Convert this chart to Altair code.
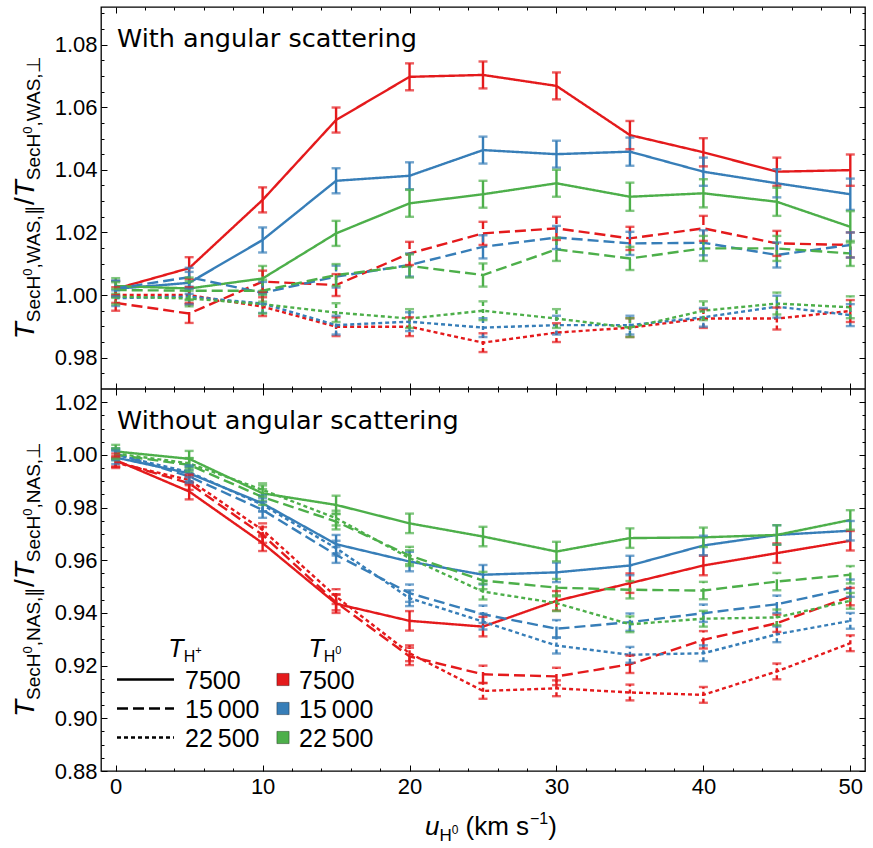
import altair as alt
import pandas as pd

# ---------------- data ----------------
X = [0, 5, 10, 15, 20, 25, 30, 35, 40, 45, 50]
TEMPS = ["7500", "15000", "22500"]
TEMP_LABELS = ["7500", "15\u2009000", "22\u2009500"]
COLORS = ["#E41A1C", "#377EB8", "#4DAF4A"]
DASHES = [[1, 0], [11, 5], [4, 3]]

# With angular scattering  (name: hp = T_H+, h0 = T_H0)
was_hp7500_h07500 = [1.0020, 1.0086, 1.0304, 1.0559, 1.0697, 1.0703, 1.0668, 1.0511, 1.0456, 1.0394, 1.0399]
was_hp7500_h015000 = [1.0020, 1.0039, 1.0176, 1.0365, 1.0381, 1.0463, 1.0450, 1.0458, 1.0394, 1.0357, 1.0322]
was_hp7500_h022500 = [1.0029, 1.0021, 1.0053, 1.0197, 1.0293, 1.0322, 1.0357, 1.0314, 1.0325, 1.0298, 1.0218]
was_hp15000_h07500 = [0.9975, 0.9941, 1.0043, 1.0032, 1.0133, 1.0197, 1.0213, 1.0181, 1.0213, 1.0165, 1.0160]
was_hp15000_h015000 = [1.0021, 1.0057, 1.0007, 1.0059, 1.0096, 1.0154, 1.0184, 1.0165, 1.0167, 1.0128, 1.0160]
was_hp15000_h022500 = [1.0016, 1.0014, 1.0014, 1.0064, 1.0093, 1.0064, 1.0146, 1.0117, 1.0149, 1.0149, 1.0133]
was_hp22500_h07500 = [1.0000, 1.0000, 0.9963, 0.9899, 0.9899, 0.9848, 0.9880, 0.9896, 0.9925, 0.9925, 0.9949]
was_hp22500_h015000 = [0.9990, 0.9995, 0.9973, 0.9904, 0.9915, 0.9896, 0.9904, 0.9904, 0.9929, 0.9963, 0.9936]
was_hp22500_h022500 = [0.9995, 0.9989, 0.9971, 0.9944, 0.9925, 0.9950, 0.9925, 0.9896, 0.9950, 0.9973, 0.9961]

was_err_solid = [0.0025, 0.0035, 0.0040, 0.0040, 0.0043, 0.0043, 0.0043, 0.0045, 0.0045, 0.0045, 0.0050]
was_err_dashed = [0.0025, 0.0030, 0.0035, 0.0035, 0.0037, 0.0037, 0.0037, 0.0037, 0.0040, 0.0040, 0.0040]
was_err_dotted = [0.0025, 0.0025, 0.0030, 0.0030, 0.0030, 0.0030, 0.0030, 0.0030, 0.0030, 0.0035, 0.0035]

# Without angular scattering
nas_hp7500_h07500 = [0.9980, 0.9861, 0.9665, 0.9435, 0.9370, 0.9348, 0.9446, 0.9513, 0.9580, 0.9627, 0.9674]
nas_hp7500_h015000 = [0.9990, 0.9930, 0.9816, 0.9661, 0.9595, 0.9545, 0.9554, 0.9580, 0.9656, 0.9696, 0.9712]
nas_hp7500_h022500 = [1.0013, 0.9985, 0.9854, 0.9810, 0.9740, 0.9690, 0.9633, 0.9684, 0.9687, 0.9696, 0.9753]
nas_hp15000_h07500 = [0.9975, 0.9892, 0.9696, 0.9440, 0.9235, 0.9167, 0.9159, 0.9205, 0.9298, 0.9361, 0.9462]
nas_hp15000_h015000 = [1.0005, 0.9918, 0.9791, 0.9620, 0.9475, 0.9395, 0.9340, 0.9365, 0.9399, 0.9433, 0.9494]
nas_hp15000_h022500 = [1.0000, 0.9962, 0.9840, 0.9747, 0.9618, 0.9523, 0.9496, 0.9488, 0.9485, 0.9519, 0.9545]
nas_hp22500_h07500 = [0.9970, 0.9905, 0.9715, 0.9462, 0.9247, 0.9104, 0.9114, 0.9098, 0.9089, 0.9178, 0.9285]
nas_hp22500_h015000 = [1.0000, 0.9935, 0.9810, 0.9646, 0.9456, 0.9367, 0.9276, 0.9241, 0.9247, 0.9319, 0.9370]
nas_hp22500_h022500 = [1.0005, 0.9968, 0.9867, 0.9760, 0.9608, 0.9481, 0.9437, 0.9357, 0.9378, 0.9383, 0.9446]

nas_err_solid = [0.0025, 0.0030, 0.0030, 0.0035, 0.0037, 0.0037, 0.0037, 0.0037, 0.0037, 0.0037, 0.0037]
nas_err_dashed = [0.0020, 0.0025, 0.0030, 0.0030, 0.0033, 0.0033, 0.0033, 0.0033, 0.0033, 0.0033, 0.0033]
nas_err_dotted = [0.0020, 0.0020, 0.0025, 0.0028, 0.0030, 0.0030, 0.0030, 0.0030, 0.0030, 0.0030, 0.0030]

# axis ticks
x_major = [0, 10, 20, 30, 40, 50]
x_minor = [2, 4, 6, 8, 12, 14, 16, 18, 22, 24, 26, 28, 32, 34, 36, 38, 42, 44, 46, 48]
was_y_major = [0.98, 1.00, 1.02, 1.04, 1.06, 1.08]
was_y_minor = [0.975, 0.985, 0.99, 0.995, 1.005, 1.01, 1.015, 1.025, 1.03, 1.035,
               1.045, 1.05, 1.055, 1.065, 1.07, 1.075, 1.085, 1.09]
nas_y_major = [0.88, 0.90, 0.92, 0.94, 0.96, 0.98, 1.00, 1.02]
nas_y_minor = [0.885, 0.89, 0.895, 0.905, 0.91, 0.915, 0.925, 0.93, 0.935, 0.945, 0.95,
               0.955, 0.965, 0.97, 0.975, 0.985, 0.99, 0.995, 1.005, 1.01, 1.015]

X_DOMAIN = [-1, 51]
WAS_DOMAIN = [0.970, 1.092]
NAS_DOMAIN = [0.880, 1.025]

W_PLOT = 764
H_PANEL = 382
H_TOTAL = 2 * H_PANEL

# ---------------- helpers ----------------
CW = {" ": 278, "\u2009": 200, "(": 333, ")": 333, ",": 278, ".": 278, "/": 278, "+": 584, "\u2212": 584,
      "0": 556, "1": 556, "A": 667, "H": 722, "N": 722, "S": 667, "T": 611, "W": 944,
      "c": 500, "e": 556, "k": 500, "m": 833, "s": 500, "u": 556,
      "\u2225": 500, "\u22a5": 838}


def tw(s, fs):
    return sum(CW.get(c, 600) for c in s) / 1000.0 * fs


def build_df(vals, errs_by_style):
    rows = []
    for hp in TEMPS:
        for h0 in TEMPS:
            v = vals[(hp, h0)]
            e = errs_by_style[hp]
            for xx, yy, ee in zip(X, v, e):
                rows.append(dict(x=xx, y=yy, lo=yy - ee, hi=yy + ee, hp=hp, h0=h0, key=hp + "_" + h0))
    return pd.DataFrame(rows)


was_df = build_df({
    ("7500", "7500"): was_hp7500_h07500, ("7500", "15000"): was_hp7500_h015000, ("7500", "22500"): was_hp7500_h022500,
    ("15000", "7500"): was_hp15000_h07500, ("15000", "15000"): was_hp15000_h015000, ("15000", "22500"): was_hp15000_h022500,
    ("22500", "7500"): was_hp22500_h07500, ("22500", "15000"): was_hp22500_h015000, ("22500", "22500"): was_hp22500_h022500,
}, {"7500": was_err_solid, "15000": was_err_dashed, "22500": was_err_dotted})

nas_df = build_df({
    ("7500", "7500"): nas_hp7500_h07500, ("7500", "15000"): nas_hp7500_h015000, ("7500", "22500"): nas_hp7500_h022500,
    ("15000", "7500"): nas_hp15000_h07500, ("15000", "15000"): nas_hp15000_h015000, ("15000", "22500"): nas_hp15000_h022500,
    ("22500", "7500"): nas_hp22500_h07500, ("22500", "15000"): nas_hp22500_h015000, ("22500", "22500"): nas_hp22500_h022500,
}, {"7500": nas_err_solid, "15000": nas_err_dashed, "22500": nas_err_dotted})

cscale = alt.Scale(domain=TEMPS, range=COLORS)
dscale = alt.Scale(domain=TEMPS, range=DASHES)
xs = alt.Scale(domain=X_DOMAIN, nice=False, zero=False)

LW = 2.4
FONT = "Liberation Sans"
common_ax = dict(grid=False, domain=False, tickColor="black", tickWidth=1, title=None, minExtent=0,
                 labelFont=FONT, labelColor="black", labelOverlap=False, labelFlush=False)


def seg_rows(segs, vertical, start, base):
    """segs: (text, fontsize, shift, italic, gap_before). Returns rows for text marks."""
    total = sum(tw(t, f) + g for t, f, s, it, g in segs)
    rows = []
    cur = start + total / 2 if vertical else start - total / 2
    for t, f, s, it, g in segs:
        if vertical:
            cur -= g
            rows.append(dict(t=t, fs=f, px=base + s, py=cur, it=it))
            cur -= tw(t, f)
        else:
            cur += g
            rows.append(dict(t=t, fs=f, px=cur, py=base + s, it=it))
            cur += tw(t, f)
    return pd.DataFrame(rows)


def text_layers(df, angle=0):
    out = []
    for it in (True, False):
        sub = df[df.it == it]
        if len(sub) == 0:
            continue
        out.append(alt.Chart(sub).mark_text(
            align="left", baseline="alphabetic", angle=angle, font=FONT,
            fontStyle="italic" if it else "normal", color="black").encode(
            x=alt.X("px:Q", scale=None, axis=None),
            y=alt.Y("py:Q", scale=None, axis=None),
            size=alt.Size("fs:Q", scale=None, legend=None),
            text="t:N"))
    return out


def ytitle(tag, y0):
    B, S, P = 28, 19, 13
    segs = [("T", B, 0, True, 0), ("SecH", S, 6, False, 0), ("0", P, -2, False, 0),
            ("," + tag + ",\u2225", S, 6, False, 0),
            ("/", B, 0, False, 0),
            ("T", B, 0, True, 0), ("SecH", S, 6, False, 0), ("0", P, -2, False, 0),
            ("," + tag + ",\u22a5", S, 6, False, 0)]
    return text_layers(seg_rows(segs, True, y0 + H_PANEL / 2, -67), angle=270)


def panel(df, ys_domain, y_range, y_major, y_minor, label, tag, y0, xaxes):
    ys = alt.Scale(domain=ys_domain, range=y_range, nice=False, zero=False)
    base = alt.Chart(df)
    X_ = alt.X("x:Q", scale=xs, axis=None)
    lines = base.mark_line(strokeWidth=LW).encode(
        x=X_, y=alt.Y("y:Q", scale=ys, axis=None),
        color=alt.Color("h0:N", scale=cscale, legend=None),
        strokeDash=alt.StrokeDash("hp:N", scale=dscale, legend=None),
        detail="key:N")
    bars = base.mark_rule(strokeWidth=LW).encode(
        x=X_, y=alt.Y("lo:Q", scale=ys, axis=None), y2="hi:Q",
        color=alt.Color("h0:N", scale=cscale, legend=None),
        strokeDash=alt.StrokeDash("hp:N", scale=dscale, legend=None))
    caps = base.transform_fold(["lo", "hi"], as_=["end", "yv"]).mark_tick(
        orient="horizontal", thickness=LW).encode(
        x=X_, y=alt.Y("yv:Q", scale=ys, axis=None),
        color=alt.Color("h0:N", scale=cscale, legend=None),
        size=alt.Size("hp:N", scale=alt.Scale(domain=TEMPS, range=[9, 9, 5]), legend=None))

    def axl(xax, yax):
        return base.mark_point(opacity=0, size=1).encode(
            x=alt.X("x:Q", scale=xs, axis=xax), y=alt.Y("y:Q", scale=ys, axis=yax))

    yl_major = alt.Axis(orient="left", values=y_major, offset=-6, tickSize=6, format=".2f",
                        labelFontSize=22, labelPadding=4, **common_ax)
    yl_minor = alt.Axis(orient="left", values=y_minor, offset=-3, tickSize=3, labels=False, **common_ax)
    yr_major = alt.Axis(orient="right", values=y_major, offset=-6, tickSize=6, labels=False, **common_ax)
    yr_minor = alt.Axis(orient="right", values=y_minor, offset=-3, tickSize=3, labels=False, **common_ax)
    L = [axl(xaxes[0], yl_major), axl(xaxes[1], yl_minor), axl(xaxes[2], yr_major), axl(xaxes[3], yr_minor)]

    lab = alt.Chart(pd.DataFrame({"t": [label]})).mark_text(
        align="left", baseline="alphabetic", font="DejaVu Sans", fontSize=25.5, color="black").encode(
        x=alt.value(16), y=alt.value(y0 + 40), text="t:N")

    return [lines, bars, caps] + L + [lab] + ytitle(tag, y0)


# x axes: top edge, separator (ticks both ways), bottom edge
ax_top_major = alt.Axis(orient="top", values=x_major, offset=-6, tickSize=6, labels=False, **common_ax)
ax_top_minor = alt.Axis(orient="top", values=x_minor, offset=-3, tickSize=3, labels=False, **common_ax)
ax_sep_major = alt.Axis(orient="bottom", values=x_major, offset=-(H_PANEL + 6), tickSize=12,
                        labels=False, **common_ax)
ax_sep_minor = alt.Axis(orient="bottom", values=x_minor, offset=-(H_PANEL + 3), tickSize=6,
                        labels=False, **common_ax)
ax_bot_major = alt.Axis(orient="bottom", values=x_major, offset=-6, tickSize=6, labels=True,
                        labelFontSize=22, labelPadding=5, **common_ax)
ax_bot_minor = alt.Axis(orient="bottom", values=x_minor, offset=-3, tickSize=3, labels=False, **common_ax)

top_layers = panel(was_df, WAS_DOMAIN, [H_PANEL, 0], was_y_major, was_y_minor,
                   "With angular scattering", "WAS", 0,
                   [ax_top_major, ax_top_minor, ax_sep_major, ax_sep_minor])
bot_layers = panel(nas_df, NAS_DOMAIN, [H_TOTAL, H_PANEL], nas_y_major, nas_y_minor,
                   "Without angular scattering", "NAS", H_PANEL,
                   [ax_bot_major, ax_bot_minor, None, None])

separator = alt.Chart(pd.DataFrame({"s": [0]})).mark_rule(color="black", strokeWidth=1.3).encode(
    x=alt.value(0), x2=alt.value(W_PLOT), y=alt.value(H_PANEL))

# ---------------- legend (bottom panel) ----------------
ROW_Y = [H_PANEL + 290.5, H_PANEL + 319.5, H_PANEL + 348.5]
leg_lines = pd.DataFrame({"hp": TEMPS, "x1": [16] * 3, "x2": [73] * 3, "ly": ROW_Y})
leg_l = alt.Chart(leg_lines).mark_rule(strokeWidth=LW, color="black").encode(
    x=alt.X("x1:Q", scale=None, axis=None), x2="x2:Q",
    y=alt.Y("ly:Q", scale=None, axis=None),
    strokeDash=alt.StrokeDash("hp:N", scale=dscale, legend=None))
leg_sq = alt.Chart(pd.DataFrame({"h0": TEMPS, "sx": [182] * 3, "ly": ROW_Y})).mark_square(
    size=150, filled=True, opacity=1, stroke="rgba(0,0,0,0.35)", strokeWidth=1).encode(
    x=alt.X("sx:Q", scale=None, axis=None), y=alt.Y("ly:Q", scale=None, axis=None),
    color=alt.Color("h0:N", scale=cscale, legend=None))
leg_txt = alt.Chart(pd.DataFrame({
    "t": TEMP_LABELS + TEMP_LABELS,
    "tx": [84] * 3 + [198] * 3,
    "ty": [y + 9 for y in ROW_Y] * 2})).mark_text(
    align="left", baseline="alphabetic", font=FONT, fontSize=25, color="black").encode(
    x=alt.X("tx:Q", scale=None, axis=None), y=alt.Y("ty:Q", scale=None, axis=None), text="t:N")

HDR_Y = H_PANEL + 268
hdr1 = seg_rows([("T", 25, 0, True, 0), ("H", 16, 5, False, 0), ("+", 11, -3, False, 0)], False, 84, HDR_Y)
hdr2 = seg_rows([("T", 25, 0, True, 0), ("H", 16, 5, False, 0), ("0", 11, -3, False, 0)], False, 224, HDR_Y)
leg_hdr = text_layers(pd.concat([hdr1, hdr2], ignore_index=True))

# x-axis title
xt = seg_rows([("u", 26, 0, True, 0), ("H", 17, 6, False, 0), ("0", 12, -1, False, 0),
               ("(km s", 26, 0, False, 7), ("\u22121", 16, -11, False, 1), (")", 26, 0, False, 0)],
              False, W_PLOT / 2 + 8, H_TOTAL + 64)
xtitle = text_layers(xt)

chart = alt.layer(*(top_layers + bot_layers + [separator, leg_l, leg_sq, leg_txt] + leg_hdr + xtitle)
                  ).resolve_scale(y="independent").resolve_axis(x="independent", y="independent").properties(
    width=W_PLOT, height=H_TOTAL,
    padding={"left": 12, "top": 6, "right": 1, "bottom": 2}, background="white"
).configure_view(stroke="black", strokeWidth=1.3)

chart.save("out.html", embed_options={"renderer": "svg", "actions": False})
